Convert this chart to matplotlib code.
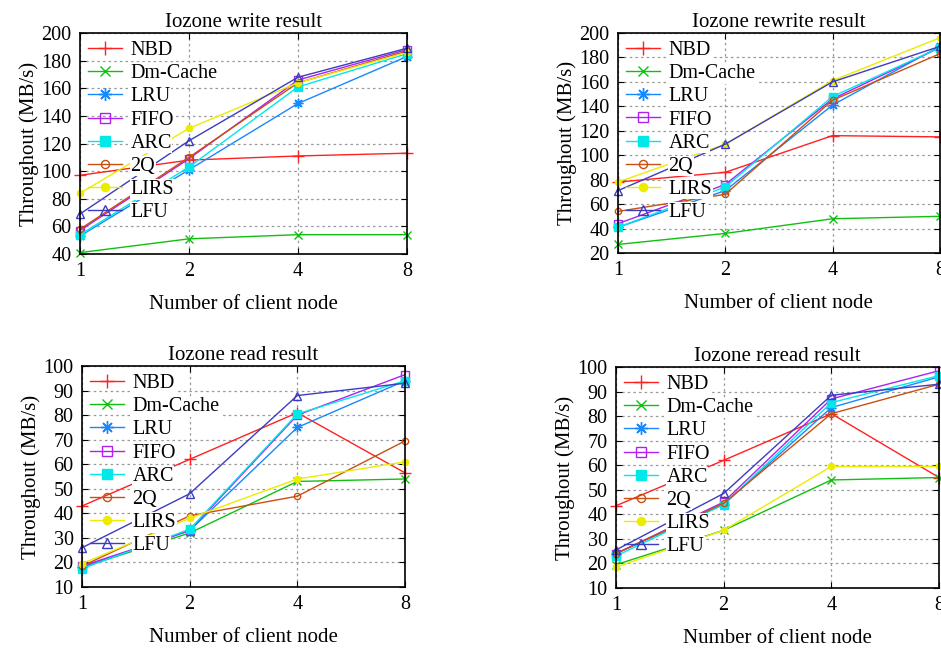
import matplotlib
matplotlib.use("Agg")
import matplotlib.pyplot as plt

plt.rcParams['font.family'] = ['Liberation Serif', 'DejaVu Serif']
plt.rcParams['mathtext.fontset'] = 'stix'

nodes = [1, 2, 4, 8]
series_names = ["NBD", "Dm-Cache", "LRU", "FIFO", "ARC", "2Q", "LIRS", "LFU"]

write_nbd = [97, 108, 111, 113]
write_dm = [41, 51, 54, 54]
write_lru = [53, 101, 149, 183]
write_fifo = [57, 109, 166, 188]
write_arc = [54, 103, 161, 185]
write_2q = [58, 110, 164, 187]
write_lirs = [84, 131, 164, 186]
write_lfu = [69, 122, 168, 189]

rewrite_nbd = [78, 86, 116, 115]
rewrite_dm = [27, 36, 48, 50]
rewrite_lru = [41, 71, 141, 189]
rewrite_fifo = [44, 76, 146, 188]
rewrite_arc = [41, 74, 148, 188]
rewrite_2q = [54, 68, 145, 183]
rewrite_lirs = [78, 109, 161, 196]
rewrite_lfu = [71, 109, 160, 189]

read_nbd = [43, 62, 81, 56.5]
read_dm = [18, 32, 53, 54]
read_lru = [18, 33, 75, 94]
read_fifo = [18.5, 33, 80, 96.5]
read_arc = [17.5, 33.5, 80.5, 94]
read_2q = [18.5, 39, 47, 69.5]
read_lirs = [19.5, 38, 54, 61]
read_lfu = [26, 48, 88, 93]

reread_nbd = [43.5, 62, 81, 55]
reread_dm = [19.5, 33.5, 54, 55]
reread_lru = [24, 44, 83.5, 96]
reread_fifo = [24, 45, 87, 98.5]
reread_arc = [23, 44, 85.5, 96.5]
reread_2q = [24, 44.5, 81, 93]
reread_lirs = [18.5, 33.5, 59.5, 59.5]
reread_lfu = [25.5, 48.5, 88.5, 93]

colors = ["#ff2020", "#10c010", "#1888ff", "#b020f0", "#00e8e8", "#c85010", "#ecec00", "#3c3cc0"]
markers = ["+", "x", (8, 2, 0), "s", "s", "o", "o", "^"]
fills = [True, True, True, False, True, False, True, False]
msizes = [8, 6, 7, 6, 6, 4.5, 4.5, 6]

panels = [
    ("Iozone write result", [write_nbd, write_dm, write_lru, write_fifo, write_arc, write_2q, write_lirs, write_lfu],
     (40, 200, 20), [0.085, 0.608, 0.3475, 0.341]),
    ("Iozone rewrite result", [rewrite_nbd, rewrite_dm, rewrite_lru, rewrite_fifo, rewrite_arc, rewrite_2q, rewrite_lirs, rewrite_lfu],
     (20, 200, 20), [0.6567, 0.6096, 0.342, 0.3395]),
    ("Iozone read result", [read_nbd, read_dm, read_lru, read_fifo, read_arc, read_2q, read_lirs, read_lfu],
     (10, 100, 10), [0.0871, 0.0941, 0.3433, 0.341]),
    ("Iozone reread result", [reread_nbd, reread_dm, reread_lru, reread_fifo, reread_arc, reread_2q, reread_lirs, reread_lfu],
     (10, 100, 10), [0.6546, 0.0926, 0.3433, 0.341]),
]

fig = plt.figure(figsize=(9.41, 6.48), dpi=100)
FS = 14.5

for title, data, (ymin, ymax, ystep), rect in panels:
    ax = fig.add_axes(rect)
    for name, vals, c, m, f, ms in zip(series_names, data, colors, markers, fills, msizes):
        ax.plot(nodes, vals, color=c, lw=1.0, marker=m, ms=ms,
                markerfacecolor=(c if f else "none"), markeredgecolor=c, mew=1.0,
                label=name, clip_on=False)
    ax.set_xscale('log', base=2)
    ax.set_xlim(1, 8)
    ax.set_xticks(nodes)
    ax.set_xticklabels([str(n) for n in nodes])
    ax.minorticks_off()
    ax.set_ylim(ymin, ymax)
    ax.set_yticks(list(range(ymin, ymax + 1, ystep)))
    ax.grid(True, color="#999999", linestyle=(0, (2, 2.5)), lw=0.9)
    ax.tick_params(direction='in', length=4, labelsize=FS, top=True, right=True, pad=6)
    for s in ax.spines.values():
        s.set_linewidth(1.2)
    ax.set_title(title, fontsize=FS + 0.5, pad=4)
    ax.set_xlabel("Number of client node", fontsize=FS + 0.5, labelpad=10)
    ax.set_ylabel("Throughout (MB/s)", fontsize=FS + 0.5, labelpad=2)
    leg = ax.legend(loc='upper left', fontsize=FS, frameon=False,
                    handlelength=1.7, handletextpad=0.4, labelspacing=0.2,
                    borderpad=0.1, borderaxespad=0.3, markerscale=1.3)
    for t in leg.get_texts():
        t.set_bbox(dict(facecolor='white', edgecolor='none', pad=0.5))
    leg.set_zorder(5)

fig.savefig("out.png", dpi=100)
